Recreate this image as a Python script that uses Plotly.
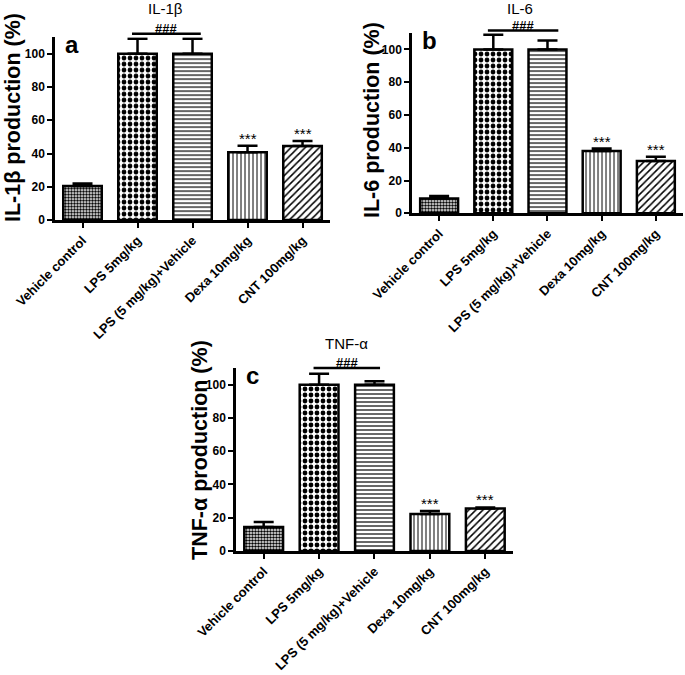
import plotly.graph_objects as go

categories = ["Vehicle control", "LPS 5mg/kg", "LPS (5 mg/kg)+Vehicle", "Dexa 10mg/kg", "CNT 100mg/kg"]
il1b = [20.5, 100, 100, 40.7, 44.5]
il1b_err = [1.5, 9, 9, 4, 3]
il6 = [9, 100, 100, 38, 32]
il6_err = [1.5, 9, 5.5, 1.5, 2.5]
tnf = [14.5, 100, 100, 22.3, 25.5]
tnf_err = [3, 6.6, 2, 1.7, 0.7]
y_ticks = [0, 20, 40, 60, 80, 100]
stars = ["", "", "", "***", "***"]

pattern_shapes = [".", ".", "-", "|", "/"]
pattern_sizes = [3, 6, 4, 4, 5]
pattern_solid = [0.55, 0.5, 0.3, 0.25, 0.3]

FONT = "Liberation Sans, Arial, sans-serif"
YMAX = 110

panels = [
    dict(vals=il1b, err=il1b_err, xd=[0.0803, 0.4818], yd=[0.674, 0.945], title="IL-1β",
         ytitle="IL-1β production (%)", letter="a", sig_y=112, sig_x=[0.9, 2.15],
         tpos=(13, 118), title_y=9),
    dict(vals=il6, err=il6_err, xd=[0.6015, 0.997], yd=[0.684, 0.951], title="IL-6",
         ytitle="IL-6 production (%)", letter="b", sig_y=111.5, sig_x=[0.9, 2.2],
         tpos=(372, 120), title_y=9),
    dict(vals=tnf, err=tnf_err, xd=[0.3445, 0.7489], yd=[0.1837, 0.4548], title="TNF-α",
         ytitle="TNF-α production (%)", letter="c", sig_y=110, sig_x=[0.9, 2.1],
         tpos=(200, 450), title_y=343),
]


def px(p, c):
    return p["xd"][0] + (p["xd"][1] - p["xd"][0]) * (c + 0.5) / 5


def py(p, v):
    return p["yd"][0] + (p["yd"][1] - p["yd"][0]) * v / YMAX


fig = go.Figure()
layout = dict(width=685, height=675, margin=dict(l=0, r=0, t=0, b=0, autoexpand=False),
              plot_bgcolor="white", paper_bgcolor="white", showlegend=False,
              font=dict(family=FONT, color="black"), bargap=0.3)
annotations = []
shapes = []

for i, p in enumerate(panels):
    n = "" if i == 0 else str(i + 1)
    xa, ya = "x" + n, "y" + n
    fig.add_trace(go.Bar(
        x=categories, y=p["vals"], xaxis=xa, yaxis=ya, width=0.7,
        marker=dict(color="white", line=dict(color="black", width=2.5),
                    pattern=dict(shape=pattern_shapes, size=pattern_sizes, solidity=pattern_solid,
                                 fgcolor="black", bgcolor="white", fillmode="replace")),
        error_y=dict(type="data", array=p["err"], arrayminus=[0] * 5, symmetric=False,
                     color="black", thickness=2.5, width=10),
    ))
    axis_common = dict(showline=True, linecolor="black", linewidth=2.5, ticks="outside",
                       tickcolor="black", tickwidth=2, ticklen=5, showgrid=False, zeroline=False,
                       automargin=False,
                       tickfont=dict(family=FONT, size=13, color="black", weight="bold"))
    layout["xaxis" + n] = dict(axis_common, domain=p["xd"], anchor=ya, tickangle=-45,
                               range=[-0.5, 4.5], fixedrange=True)
    layout["yaxis" + n] = dict(axis_common, domain=p["yd"], anchor=xa, range=[0, YMAX],
                               tickvals=y_ticks, fixedrange=True,
                               tickfont=dict(family=FONT, size=12, color="black", weight="bold"))
    # significance bar and labels
    sy = py(p, p["sig_y"])
    shapes.append(dict(type="line", xref="paper", yref="paper", x0=px(p, p["sig_x"][0]),
                       x1=px(p, p["sig_x"][1]), y0=sy, y1=sy, line=dict(color="black", width=2.5)))
    annotations.append(dict(xref="paper", yref="paper", x=px(p, sum(p["sig_x"]) / 2), y=sy,
                            text="###", showarrow=False, xanchor="center", yanchor="bottom", yshift=-4,
                            font=dict(size=13, weight="bold", color="black")))
    annotations.append(dict(xref="paper", yref="paper", x=px(p, 1.5), y=1 - p["title_y"] / 675,
                            text=p["title"], showarrow=False, xanchor="center", yanchor="middle",
                            font=dict(size=15, color="black")))
    for j, s in enumerate(stars):
        if s:
            annotations.append(dict(xref=xa, yref=ya, x=j, y=p["vals"][j] + p["err"][j], text=s,
                                    showarrow=False, xanchor="center", yanchor="bottom", yshift=-3,
                                    font=dict(size=15, color="black")))
    annotations.append(dict(xref="paper", yref="paper", x=p["xd"][0] + 0.012, y=p["yd"][1] + 0.012,
                            text=p["letter"], showarrow=False, xanchor="left", yanchor="top",
                            font=dict(size=24, weight="bold", color="black")))
    # y-axis title
    annotations.append(dict(xref="paper", yref="paper", x=p["tpos"][0] / 685, y=1 - p["tpos"][1] / 675,
                            text=p["ytitle"], textangle=-90, showarrow=False,
                            xanchor="center", yanchor="middle",
                            font=dict(size=21.5, weight="bold", color="black")))

layout["annotations"] = annotations
layout["shapes"] = shapes
fig.update_layout(**layout)
fig.write_html("out.html", config={"displayModeBar": False},
               post_script="document.body.style.margin='0px';")
